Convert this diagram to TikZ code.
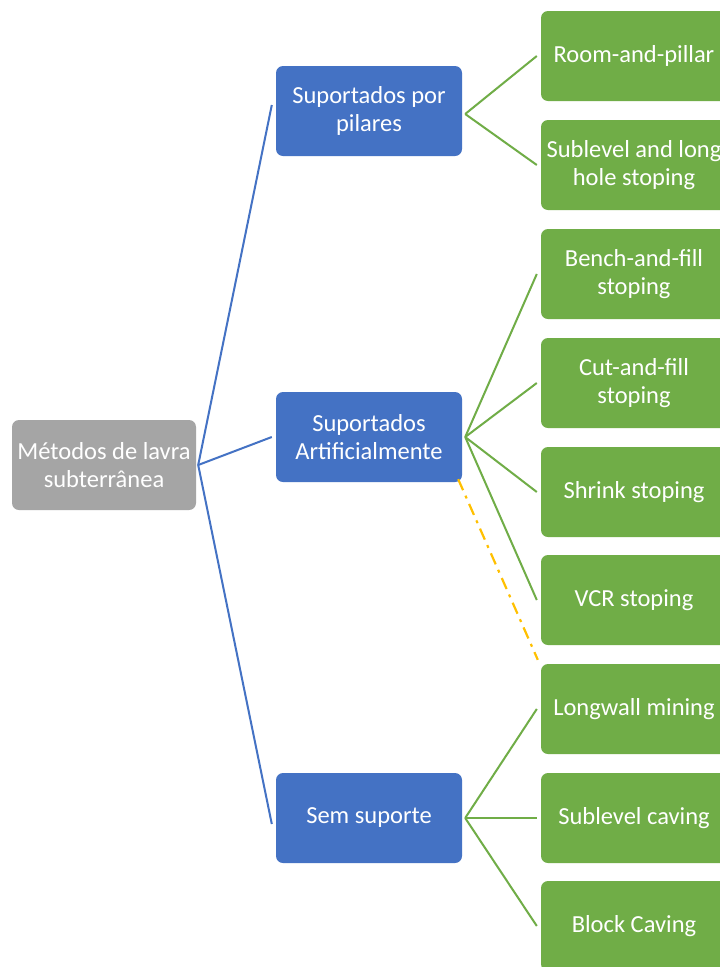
\documentclass[tikz,border=0pt]{standalone}
\usepackage{fontspec}
\setmainfont{Carlito}
\definecolor{cblue}{HTML}{4472C4}
\definecolor{cgreen}{HTML}{70AD47}
\definecolor{cgray}{HTML}{A5A5A5}
\definecolor{corange}{HTML}{FFC000}
\begin{document}
\begin{tikzpicture}[x=1pt,y=-1pt,
  box/.style={rounded corners=7pt, minimum width=186pt, minimum height=90pt, text=white, align=center, font=\fontsize{24.5}{28.5}\selectfont, inner sep=1pt},
  rootbox/.style={box, fill=cgray, minimum width=184pt},
  bluebox/.style={box, fill=cblue},
  greenbox/.style={box, fill=cgreen},
  bline/.style={cblue, line width=2pt},
  gline/.style={cgreen, line width=2pt},
  oline/.style={corange, line width=2.2pt, dash pattern=on 12pt off 6pt on 3pt off 6pt}]
\useasboundingbox (0,0) rectangle (720,967);
\clip (0,0) rectangle (720,967);
\fill[white] (0,0) rectangle (720,967);
\node[rootbox] (root) at (104,465) {Métodos de lavra\\subterrânea};
\node[bluebox] (b1) at (369,111) {Suportados por\\pilares};
\node[bluebox] (b2) at (369,437) {Suportados\\Artificialmente};
\node[bluebox] (b3) at (369,818) {Sem suporte};
\node[greenbox] (g1) at (634,56) {Room-and-pillar};
\node[greenbox] (g2) at (634,165) {Sublevel and long\\hole stoping};
\node[greenbox] (g3) at (634,274) {Bench-and-fill\\stoping};
\node[greenbox] (g4) at (634,383) {Cut-and-fill\\stoping};
\node[greenbox] (g5) at (634,492) {Shrink stoping};
\node[greenbox] (g6) at (634,600) {VCR stoping};
\node[greenbox] (g7) at (634,709) {Longwall mining};
\node[greenbox] (g8) at (634,818) {Sublevel caving};
\node[greenbox] (g9) at (634,926) {Block Caving};
\coordinate (rf) at ([xshift=2pt]root.east);
\draw[bline] (rf) -- ([xshift=-4pt,yshift=6pt]b1.west);
\draw[bline] (rf) -- ([xshift=-4pt]b2.west);
\draw[bline] (rf) -- ([xshift=-4pt,yshift=-6pt]b3.west);
\coordinate (f1) at ([xshift=3pt,yshift=-3pt]b1.east);
\draw[gline] (f1) -- ([xshift=-4pt]g1.west);
\draw[gline] (f1) -- ([xshift=-4pt]g2.west);
\coordinate (f2) at ([xshift=3pt]b2.east);
\foreach \g in {g3,g4,g5,g6} \draw[gline] (f2) -- ([xshift=-4pt]\g.west);
\coordinate (f3) at ([xshift=3pt]b3.east);
\foreach \g in {g7,g8,g9} \draw[gline] (f3) -- ([xshift=-4pt]\g.west);
\draw[oline] ([xshift=-4pt,yshift=3pt]b2.south east) -- ([xshift=-3pt,yshift=4pt]g7.north west);
\end{tikzpicture}
\end{document}
